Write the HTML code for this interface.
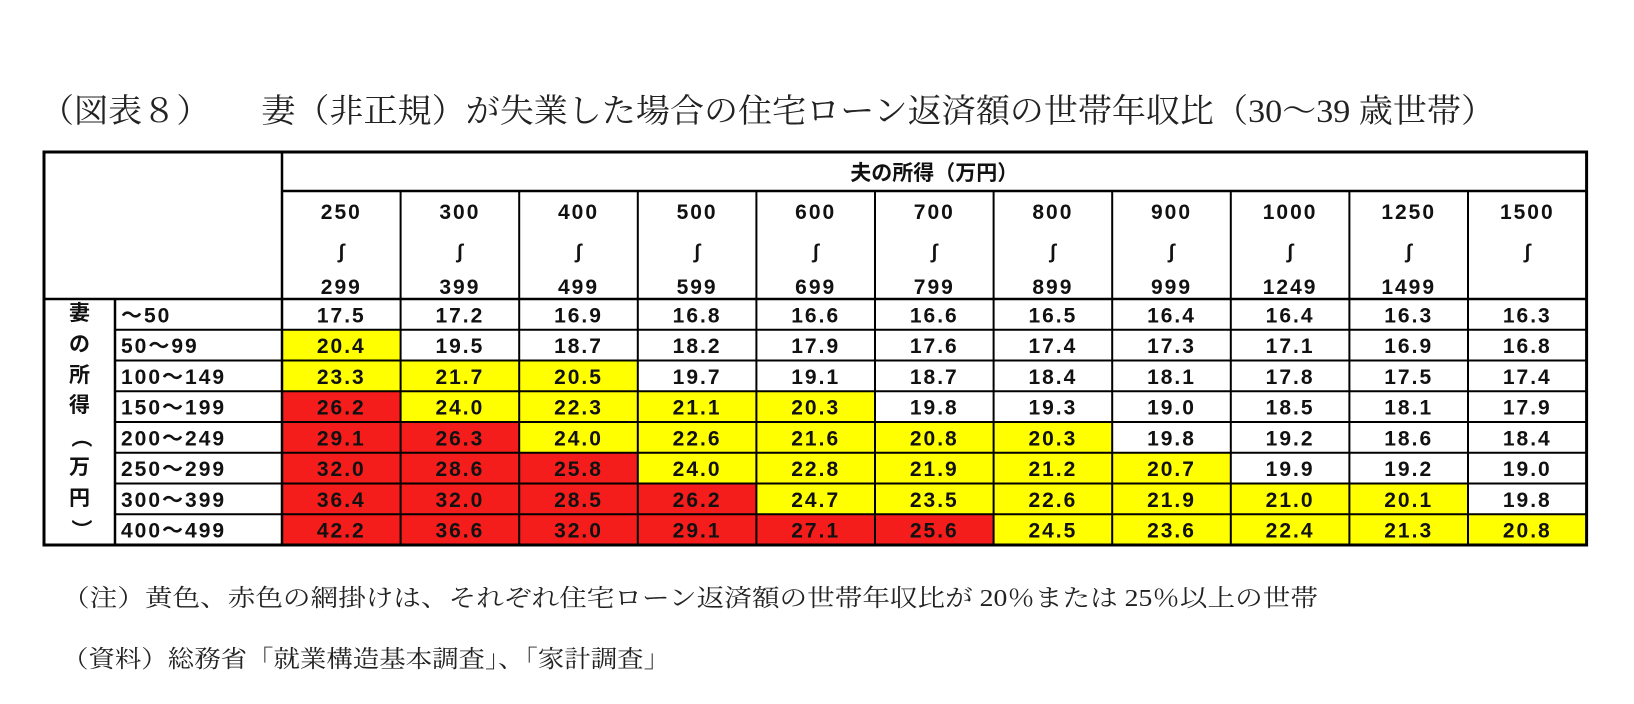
<!DOCTYPE html>
<html><head><meta charset="utf-8">
<style>
html,body{margin:0;padding:0;background:#fff;}
svg{display:block;}
.t{font-family:"Liberation Sans","Noto Sans CJK JP",sans-serif;font-weight:bold;fill:#111;}
.s{font-family:"Liberation Serif","Noto Serif CJK JP",serif;fill:#222;}
</style></head>
<body>
<svg id="chart" width="1634" height="704" viewBox="0 0 1634 704" xmlns="http://www.w3.org/2000/svg">
<text class="s" x="40" y="122" font-size="33" textLength="1455" lengthAdjust="spacingAndGlyphs">（図表８）　　妻（非正規）が失業した場合の住宅ローン返済額の世帯年収比（30～39 歳世帯）</text>
<g id="tbl"></g>
<text class="s" x="62" y="606" font-size="24" textLength="1256" lengthAdjust="spacingAndGlyphs">（注）黄色、赤色の網掛けは、それぞれ住宅ローン返済額の世帯年収比が 20％または 25％以上の世帯</text>
<text class="s" x="62" y="667" font-size="24" textLength="608" lengthAdjust="spacingAndGlyphs">（資料）総務省「就業構造基本調査」、「家計調査」</text>
</svg>
<script>
const husbandFrom = ["250","300","400","500","600","700","800","900","1000","1250","1500"];
const husbandTo = ["299","399","499","599","699","799","899","999","1249","1499",""];
const wifeIncome = ["～50","50～99","100～149","150～199","200～249","250～299","300～399","400～499"];
const rowA = [17.5,17.2,16.9,16.8,16.6,16.6,16.5,16.4,16.4,16.3,16.3];
const rowB = [20.4,19.5,18.7,18.2,17.9,17.6,17.4,17.3,17.1,16.9,16.8];
const rowC = [23.3,21.7,20.5,19.7,19.1,18.7,18.4,18.1,17.8,17.5,17.4];
const rowD = [26.2,24.0,22.3,21.1,20.3,19.8,19.3,19.0,18.5,18.1,17.9];
const rowE = [29.1,26.3,24.0,22.6,21.6,20.8,20.3,19.8,19.2,18.6,18.4];
const rowF = [32.0,28.6,25.8,24.0,22.8,21.9,21.2,20.7,19.9,19.2,19.0];
const rowG = [36.4,32.0,28.5,26.2,24.7,23.5,22.6,21.9,21.0,20.1,19.8];
const rowH = [42.2,36.6,32.0,29.1,27.1,25.6,24.5,23.6,22.4,21.3,20.8];
const values = [rowA,rowB,rowC,rowD,rowE,rowF,rowG,rowH];

const NS = "http://www.w3.org/2000/svg";
const g = document.getElementById('tbl');
const L = 44, C1 = 115, C2 = 282, CW = 118.6, R = C2 + CW*husbandFrom.length;
const T = 152, H1 = 191, H2 = 299, RH = 30.75, B = H2 + RH*wifeIncome.length;
function colX(i){ return C2 + CW*i; }
function rowY(j){ return H2 + RH*j; }
function mk(tag, attrs){ const e = document.createElementNS(NS, tag); for (const k in attrs) e.setAttribute(k, attrs[k]); g.appendChild(e); return e; }
function txt(x,y,s,size,anchor,cls){ const e = mk('text',{x:x,y:y,'font-size':size,'text-anchor':anchor,'class':cls||'t'}); e.textContent = s; return e; }
function color(v){ return v >= 25 ? '#f51c1c' : (v >= 20 ? '#ffff00' : '#ffffff'); }

values.forEach((row,j)=>{
  row.forEach((v,i)=>{
    const r = mk('rect',{x:colX(i),y:rowY(j),width:CW,height:RH,fill:color(v)});
    
    
    const t = txt(colX(i)+CW/2, rowY(j)+RH/2+8, v.toFixed(1), 21, 'middle');
    t.setAttribute('letter-spacing', '2');
    
    
  });
  const lb = txt(C1+6, rowY(j)+RH/2+8, wifeIncome[j], 21, 'start');
  lb.setAttribute('letter-spacing', '2');
  
  
});
const hd = txt((C2+R)/2, 180, "夫の所得（万円）", 21, 'middle');


husbandFrom.forEach((f,i)=>{
  const cx = colX(i)+CW/2;
  const a = txt(cx, 219, f, 21, 'middle'); a.setAttribute('letter-spacing','2');
  
  
  const w = txt(0, 0, "∫", 20, 'middle');
  w.setAttribute('transform', 'translate('+cx+',258)');
  
  
  if (husbandTo[i]) {
    const b = txt(cx, 294, husbandTo[i], 21, 'middle'); b.setAttribute('letter-spacing','2');
    
    
  }
});
function line(x1,y1,x2,y2,w){ const l = mk('line',{x1:x1,y1:y1,x2:x2,y2:y2,stroke:'#000','stroke-width':w});   }
line(C2,H1,R,H1,2.5);
line(L,H2,R,H2,2.5);
for (let j=1;j<wifeIncome.length;j++) line(C1,rowY(j),R,rowY(j),2);
for (let i=1;i<husbandFrom.length;i++) line(colX(i),H1,colX(i),B,2);
line(C1,H2,C1,B,2.5);
line(C2,T,C2,B,2.5);
const o = mk('rect',{x:L,y:T,width:R-L,height:B-T,fill:'none',stroke:'#000','stroke-width':3});


</script>
<div style="position:absolute;left:44px;top:299px;width:71px;font-family:'Liberation Sans','Noto Sans CJK JP',sans-serif;font-weight:bold;font-size:21px;color:#111;text-align:center;line-height:30.75px;">妻<br>の<br>所<br>得<br><span style="display:inline-block;transform:rotate(90deg)">（</span><br>万<br>円<br><span style="display:inline-block;transform:rotate(90deg)">）</span></div>
</body></html>
